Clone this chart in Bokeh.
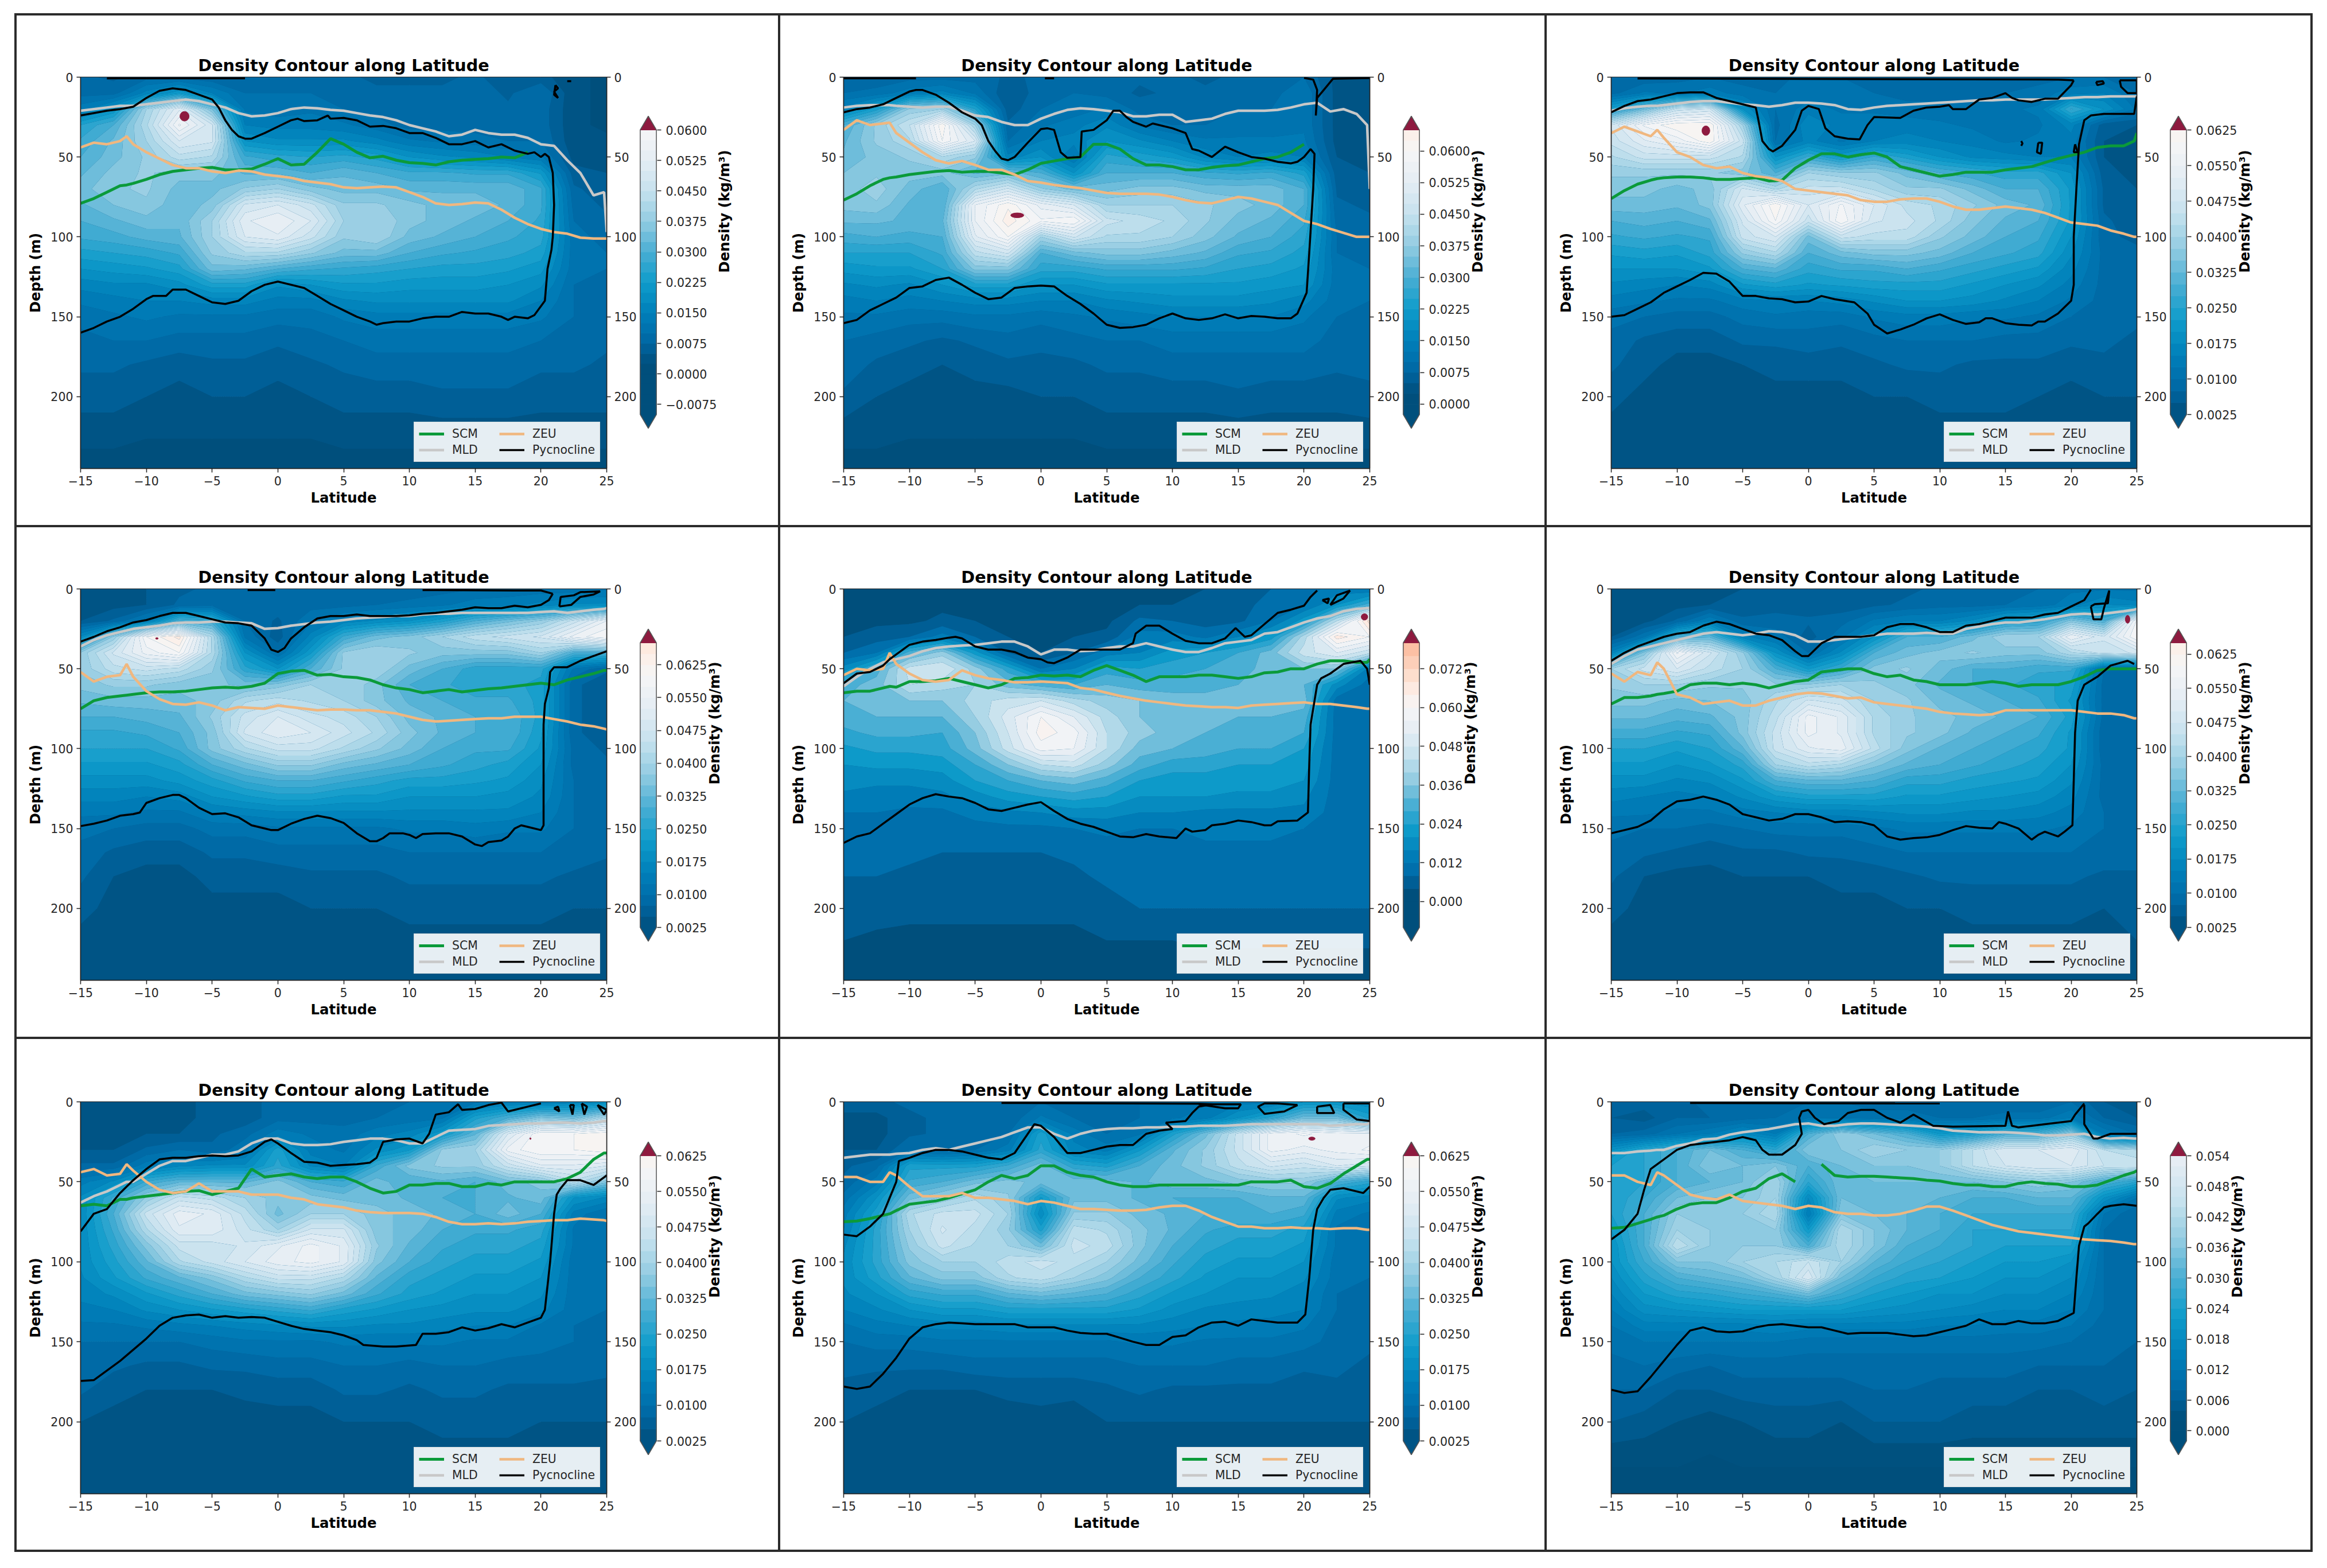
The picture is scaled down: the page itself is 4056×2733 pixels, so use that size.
import numpy as np
from bokeh.plotting import figure
from bokeh.models import FixedTicker, LinearAxis, Range1d, Legend, LegendItem
from bokeh.layouts import column, row
from bokeh.embed import file_html
from bokeh.resources import INLINE
N=float("nan")
LAT_G=[-15,-12.5,-10,-7.5,-5,-2.5,0,2.5,5,7.5,10,12.5,15,17.5,20,22.5,25]
DEP_G=[0,10,20,30,40,50,60,70,80,90,100,110,120,130,140,150,165,180,200,220,245]
LAT_L=[-15,-14,-13,-12,-11.5,-11,-10,-9,-8,-7,-6,-5,-4,-3,-2,-1,0,1,2,3,4,5,6,7,8,9,10,11,12,13,14,15,16,17,18,19,20,21,22,23,24,24.8,25]
BOT=[1]*17
P1_Z=[[8,7,9,9,8,9,9,9,8,7,7,7,8,6,6,3,2],[9,9,16,22,15,10,10,10,9,8,8,8,9,7,10,3,2],[14,20,40,52,35,12,11,12,10,9,8,8,9,8,9,3,2],[25,30,42,58,48,15,14,14,13,11,9,9,9,8,9,3,2],[28,33,40,50,48,20,18,18,18,16,13,12,11,10,10,3,3],[30,34,38,44,42,28,26,25,26,24,20,18,17,15,13,4,4],[32,36,38,36,36,32,32,30,32,30,28,28,27,27,22,6,5],[34,37,38,34,34,38,40,36,34,34,32,32,32,32,28,8,6],[32,35,37,33,36,48,50,46,38,38,36,34,34,32,28,9,7],[30,32,34,33,40,52,55,50,40,40,36,34,32,30,27,10,8],[28,29,31,32,40,50,52,46,38,40,34,32,30,28,26,11,9],[24,25,26,28,38,42,42,38,34,34,30,28,27,26,24,11,10],[20,21,22,24,34,33,30,28,27,26,25,24,24,23,21,11,10],[16,17,17,19,24,24,18,20,22,22,21,21,21,20,18,10,10],[13,14,15,15,16,16,14,14,17,18,18,18,18,18,15,10,10],[11,12,13,12,12,12,11,11,13,14,14,14,14,14,13,10,9],[9,10,10,9,9,9,8,9,10,11,11,11,11,11,10,9,8],[8,8,7,6,7,7,6,7,8,9,9,9,9,9,8,8,7],[6,6,5,4,5,5,4,5,6,6,6,7,7,7,6,6,6],[4,4,3,3,3,3,3,3,4,4,4,4,4,4,4,4,4],BOT]
P2_Z=[[8,8,9,9,9,7,8,9,9,8,8,7,8,8,10,4,3],[10,11,14,16,12,5,9,10,9,7,8,8,9,9,12,4,3],[16,24,38,40,25,6,10,11,13,9,9,9,10,10,12,4,3],[30,38,45,62,40,8,12,14,17,12,10,10,11,11,12,4,3],[32,38,42,60,50,10,15,16,20,18,15,13,13,13,13,4,3],[33,36,38,42,38,16,20,12,26,24,22,17,15,16,15,5,4],[35,37,36,36,32,34,30,20,30,30,30,28,27,28,24,6,5],[36,39,34,30,42,48,38,34,34,36,36,34,34,34,30,7,6],[36,37,32,30,55,62,54,50,40,40,40,38,36,34,30,8,7],[33,33,32,32,55,64,58,60,46,44,42,38,34,32,28,9,8],[29,30,29,30,52,60,40,48,42,42,40,36,32,30,26,10,9],[25,25,25,28,44,48,30,34,36,36,34,32,28,27,24,10,9],[21,22,22,25,36,36,26,26,28,28,28,27,25,24,22,11,10],[17,18,17,20,24,24,20,20,22,22,22,22,22,21,20,11,10],[14,15,14,15,16,16,15,15,17,18,19,19,19,18,16,11,10],[12,12,11,11,12,12,11,12,13,14,15,15,15,15,13,10,10],[10,9,8,7,8,9,8,9,10,10,11,11,11,11,11,9,9],[9,7,6,5,6,7,7,7,8,8,9,9,9,9,9,8,8],[7,5,4,3,4,4,5,5,6,6,6,6,7,6,6,6,7],[4,4,3,3,3,3,3,3,4,4,4,4,4,4,4,4,4],BOT]
P3_Z=[[8,8,9,10,9,9,11,10,9,8,8,9,9,9,10,10,8],[9,13,12,14,11,10,11,11,10,9,9,9,10,11,14,15,10],[24,34,46,48,20,10,14,12,12,11,11,11,12,13,28,20,12],[48,58,62,64,40,9,17,14,14,14,13,12,12,12,16,6,5],[46,52,56,62,46,10,16,12,15,16,15,14,12,13,14,5,5],[42,46,46,46,42,20,28,22,28,24,20,17,16,15,15,5,4],[38,38,38,38,36,30,40,38,38,34,30,28,26,26,20,6,4],[36,36,34,36,48,42,46,46,42,38,38,34,30,30,22,7,5],[34,34,33,36,52,62,50,58,50,44,42,38,34,32,22,7,5],[30,31,30,32,48,60,46,60,48,46,42,36,32,30,22,8,6],[27,28,27,28,46,50,34,46,44,44,38,34,30,28,20,8,7],[23,24,23,26,38,42,30,34,36,36,34,30,28,26,18,9,8],[20,20,20,22,30,32,26,28,28,30,28,26,24,22,16,9,8],[17,16,15,16,22,24,22,23,24,24,24,22,20,18,14,9,9],[14,13,12,12,14,15,15,16,18,20,20,19,17,15,12,9,9],[11,10,9,9,11,12,11,11,13,14,14,13,13,12,10,9,8],[9,7,6,6,8,8,9,8,9,10,10,10,9,9,8,8,7],[8,6,4,4,5,6,6,6,7,8,8,7,7,7,6,7,6],[6,4,3,3,3,4,4,4,5,5,6,6,6,5,4,5,5],[4,3,3,2,3,3,3,3,3,4,4,4,4,3,3,4,4],BOT]
P4_Z=[[4,4,5,7,8,9,9,9,9,8,8,9,10,11,11,11,12],[4,4,5,8,9,9,9,9,9,10,11,12,14,14,16,18,18],[5,8,14,30,28,10,7,12,16,18,20,24,30,34,38,46,55],[18,38,60,66,42,12,6,16,28,34,36,40,44,46,48,56,60],[38,48,56,60,42,20,10,22,38,40,38,36,36,36,40,30,30],[38,44,46,44,38,26,20,30,38,40,34,30,26,26,26,12,8],[36,38,38,36,36,34,36,40,40,36,30,28,26,26,24,8,6],[33,34,34,34,36,42,44,42,40,36,32,30,28,28,24,8,6],[30,30,31,32,38,46,50,46,44,40,34,32,30,30,24,8,6],[27,27,28,30,36,48,52,50,46,42,36,32,30,30,23,8,6],[25,25,25,28,36,42,46,46,42,38,34,30,28,28,22,9,7],[22,22,22,24,30,34,38,38,34,32,30,28,26,24,20,9,8],[19,19,19,21,24,28,30,30,28,26,24,24,23,22,18,10,9],[16,16,15,16,20,22,24,24,22,22,20,20,20,19,17,10,9],[13,13,12,12,15,16,17,17,17,17,17,17,17,17,15,10,9],[11,10,9,9,11,11,12,12,12,12,13,13,14,13,13,10,9],[9,7,6,6,8,8,9,9,9,9,10,10,10,10,10,9,8],[8,5,4,4,6,6,6,7,7,7,8,8,8,8,8,7,6],[6,4,3,3,4,4,4,5,5,5,6,6,6,6,6,5,5],[4,3,3,2,3,3,3,3,3,3,4,4,4,4,4,4,4],BOT]
P5_Z=[[2,2,2,3,3,3,3,3,3,3,4,4,6,8,10,14,12],[2,2,2,3,3,3,3,3,3,4,4,5,7,9,12,20,30],[2,3,3,5,4,3,3,3,3,9,8,6,7,12,22,44,70],[4,6,8,14,8,4,3,4,5,14,14,11,16,22,42,66,60],[8,12,30,38,22,8,4,8,14,16,22,24,28,34,46,52,45],[18,30,46,48,38,26,12,16,26,24,26,28,30,34,36,36,14],[30,34,44,42,40,34,30,28,32,30,30,30,32,34,32,18,10],[32,34,36,36,42,46,48,42,38,36,34,34,36,36,34,10,9],[30,32,32,32,40,50,60,52,42,36,34,34,32,32,30,10,9],[27,29,29,28,36,48,62,58,44,38,34,32,30,30,28,10,9],[23,25,25,26,34,46,58,56,44,34,32,30,28,28,24,10,9],[20,21,21,22,28,36,44,46,38,30,26,26,24,24,22,10,9],[18,17,17,18,24,28,32,34,30,24,22,22,22,22,20,10,9],[15,14,14,15,18,22,24,26,24,20,20,20,19,19,17,10,9],[12,12,11,11,14,15,16,18,18,16,16,15,15,15,15,10,9],[10,10,9,9,10,11,11,12,13,12,12,13,13,13,12,10,9],[10,10,9,8,8,8,8,9,10,11,11,11,11,11,11,10,10],[8,8,7,7,7,7,7,7,9,10,10,10,10,10,10,10,9],[6.5,5,5,5,5,5,5,5,6,8,8,8,8,8,8,8,8],[4,3.5,3,3,3,3,3,3,4,4,4,5,5,5,5,5,5],[0]*17]
P6_Z=[[3,3,3,4,5,6,6,7,6,7,8,9,10,10,12,12,12],[3,3,4,5,6,7,6,6,7,8,9,9,10,11,14,18,16],[3,4,8,15,8,8,8,9,13,15,15,18,24,26,36,30,58],[5,12,30,32,16,12,6,12,20,30,30,34,40,40,55,48,60],[16,36,58,48,38,20,10,18,30,34,36,38,36,36,42,46,48],[40,46,50,44,40,30,22,28,36,38,34,30,30,28,28,10,9],[38,40,40,38,38,38,38,40,38,36,32,30,28,26,24,9,9],[36,36,34,35,36,42,48,46,40,38,34,32,30,28,22,9,8],[33,33,31,32,36,44,56,52,42,38,36,34,32,30,24,9,9],[29,29,27,28,36,46,56,52,42,38,36,32,30,28,22,8,9],[25,25,23,25,32,46,52,54,44,36,32,30,28,26,22,8,8],[22,22,20,22,26,40,44,42,36,32,30,28,26,24,20,9,8],[19,19,17,18,22,30,32,32,30,26,26,24,23,22,18,9,9],[16,15,14,15,18,22,24,24,24,22,22,21,20,19,16,9,9],[13,13,12,12,14,15,16,16,17,18,18,17,17,16,14,10,9],[11,10,10,9,10,11,11,11,12,13,13,13,13,13,12,10,9],[9,8,7,6,7,7,8,8,9,10,10,10,10,10,10,9,9],[8,5,4,4,5,5,5,6,6,7,8,8,8,8,8,7,7],[6,4,3,3,3,3,3,4,4,5,5,6,6,6,6,5,6],[4,3,2,2,3,3,3,3,3,3,3,4,4,4,4,4,5],BOT]
P7_Z=[[4,3,3,4,6,7,8,9,8,9,10,10,12,14,14,16,18],[4,3,3,4,6,6,9,9,9,10,11,12,24,30,36,34,42],[4,4,5,5,7,9,14,12,11,14,16,22,32,50,60,60,62],[5,5,8,10,8,12,24,14,12,18,22,38,40,56,60,60,62],[8,8,14,17,18,18,26,17,15,28,36,38,38,46,52,52,50],[14,18,28,32,32,32,36,30,28,34,30,32,30,34,36,44,36],[18,28,38,46,44,40,36,36,34,34,32,30,30,32,34,20,17],[18,30,46,54,52,44,34,40,40,36,34,32,30,34,30,14,10],[18,28,42,52,52,46,40,48,48,36,34,30,28,28,26,12,10],[18,26,36,46,46,48,52,56,52,38,32,28,26,26,24,12,10],[18,24,32,42,46,50,54,56,52,36,30,26,24,24,22,11,10],[17,22,28,32,36,42,46,46,42,32,26,24,22,22,20,11,10],[16,18,22,26,30,34,36,38,34,28,24,22,20,20,18,11,10],[14,15,18,20,22,24,26,28,24,22,20,19,18,18,16,11,10],[12,12,13,14,15,16,17,18,18,17,17,16,15,15,12,10,10],[10,10,10,10,11,12,12,12,13,13,13,13,12,12,11,10,9],[9,8,7,7,8,8,9,9,10,10,9,10,10,9,9,9,8],[8,6,5,5,5,6,6,6,8,8,7,8,8,7,7,7,7],[5,4,3,3,3,3,4,4,5,5,5,6,6,6,5,5,5],[3,3,2,2,3,3,3,3,3,3,3,4,4,4,4,4,4],BOT]
P8_Z=[[7,7,8,9,9,10,10,10,10,10,11,12,14,14,20,20,18],[4,4,7,8,8,8,13,10,9,10,12,14,20,26,34,34,24],[4,4,7,8,8,10,24,14,10,12,24,34,46,56,58,56,56],[5,5,10,8,10,14,26,16,14,22,32,38,46,56,54,56,58],[7,9,24,24,24,28,34,26,24,30,34,38,44,48,46,50,48],[8,14,28,30,34,36,34,34,34,32,34,34,36,38,38,30,26],[11,20,34,38,42,38,22,34,34,32,30,30,30,32,32,18,16],[14,24,42,46,46,40,18,38,38,34,32,30,30,30,28,14,12],[15,26,40,48,44,38,24,44,42,36,32,28,26,26,24,12,10],[17,26,38,46,42,40,34,46,44,36,30,26,24,24,22,12,10],[18,26,36,40,40,44,46,44,40,34,28,24,22,22,20,11,10],[18,24,32,36,36,42,44,40,36,30,26,22,20,20,18,11,10],[17,20,26,28,28,32,34,32,30,26,22,20,18,18,16,10,10],[15,17,20,22,22,24,24,24,24,22,19,17,17,16,15,10,9],[12,14,15,16,16,17,17,17,17,17,16,15,14,14,13,9,9],[10,11,11,12,12,12,12,12,12,13,13,12,12,12,11,9,8],[8,8,8,8,9,9,9,9,9,10,10,10,9,9,8,8,7],[7,6,5,5,5,6,6,6,7,8,7,7,7,7,6,7,6],[5,4,3,3,3,3,4,3,5,5,5,5,5,5,5,5,5],[3,3,2,2,3,3,3,3,3,3,3,3,4,3,4,4,4],BOT]
P9_Z=[[8,7,7,9,9,10,10,10,9,9,9,8,8,8,10,6,5],[6,5,8,8,9,10,12,12,11,11,10,10,11,11,14,8,6],[8,9,12,14,18,14,30,38,34,30,22,24,30,30,38,14,10],[20,26,30,34,30,26,36,36,40,38,38,44,50,50,52,44,42],[24,26,30,36,34,36,30,34,36,36,38,44,48,50,50,46,46],[24,26,30,32,34,40,26,34,34,34,34,34,36,38,36,30,26],[24,28,34,36,36,40,18,34,34,34,32,30,30,32,32,20,12],[24,30,38,38,38,42,14,36,34,32,30,28,28,28,28,12,8],[22,30,40,38,38,38,22,42,36,32,30,26,26,26,26,10,8],[20,30,44,38,38,38,30,42,36,30,28,26,24,24,24,10,8],[20,28,36,36,40,42,46,40,32,28,26,24,22,22,20,10,8],[18,25,30,32,34,40,50,34,28,25,24,22,20,20,18,10,9],[16,22,25,26,28,30,34,28,24,22,20,20,18,18,16,10,9],[14,19,20,21,22,22,22,22,20,19,18,17,16,16,14,10,9],[12,15,15,15,15,16,15,15,15,15,14,14,13,13,12,9,9],[11,12,12,12,12,12,11,11,11,11,11,11,11,11,10,9,8],[9,10,9,8,9,9,9,9,9,9,9,9,9,8,8,8,7],[8,8,6,6,7,7,7,7,8,8,7,7,7,6,6,7,6],[6,5,4,3,4,5,5,4,6,6,6,5,5,5,5,5,5],[3,3,3,2,3,3,3,3,3,3,3,3,3,3,3,3,3],[0]*17]
P1_SCM=[79,76,72,68,67.5,66.5,64,61,59,58,57,56.5,58,58,57.5,54.5,51,55,54.5,47,38.5,42,47,50.5,49.5,52,53.5,54,55,53,52,51.5,51,50,50.5,47,N,N,N,N,N,N,N]
P1_MLD=[21,20,19,18,18,18,17,16,15,14,15,17,19,22.5,24.5,24,22.5,20,19,19.5,20.5,21,22.5,24,25,27,30,32,34,37,36,33,35,36,36,38,42,43,52,60,74,72,97]
P1_ZEU=[44,41,42,40,37,42,47,51,55,57,57,59,60,58.5,59,61,62,63,65,66,67,69,69.5,69,68.5,69,72,75,79,80,79.5,78.5,79,83,88,92,95,97,98,100.5,101,101,101]
P2_SCM=[77,73,68,64,63,62.5,61,60,59,58.5,59.5,59,59,60,61,58,54,52.5,51,50,42,42,45,51,55,55,56,58,58,56.5,55.5,55,53,51,50,47,42,N,N,N,N,N,N]
P2_MLD=[19,18,17.5,17.5,17.5,18,18.5,19,18.5,18.5,21,24,25,28,30,30,26,23,20.5,19.5,20,21,22,24.5,24.5,23.5,23.5,28,27,26,23,21,21,21,20.5,19,17,16,21.5,20,23,30,70]
P2_ZEU=[33,27,30,29,28.5,35,41,47,52,54,52.5,55,58,58,61,65,66,67.5,68.5,69.5,71,72.5,73,73,73,73.5,75,77,78.5,79,77,75,76,78,80,85,90,92,95,97.5,100,100,100]
P3_SCM=[76,71,67,64.5,63.5,63,62.5,62.5,63,64,64,63.5,63,65,64.5,57,52,48,48,50,48.5,47.5,50,56,58,60,62,61,59.5,59.5,59.5,58,57,56,53.5,51,49,47,44,43,43,40,35]
P3_MLD=[21,19.5,18.5,18,18,17.5,16.5,15.5,15,15,16,17,17.5,18.5,17.5,16,16,16.5,17.5,20,20.5,19,18,17.5,17,16.5,16,15.5,15,14.5,14.5,14,14,14,14,13.5,13,12.5,12.5,12,12,12,12]
P3_ZEU=[35,31,34,37,33,38,47,50,55,57,56,60,62,63,65,70,71,72,73,74,77,78,78,76.5,76,76,78,81,83,83,82,81,82,83,85,88,91,92,93,96,98,100,100]
P4_SCM=[75,70,68,67,66.5,66,65,64.5,64.5,64,63,62,61.5,62,61,59,53,51.5,51,54,53.5,55,55.5,57,60,62,63,65,64,63,64.5,63.5,62.5,62,61,60,59,60,57,55,53,51,51]
P4_MLD=[36,32,29,27,26,25,24,23,21.5,21,21,20.5,20.5,21,21.5,25,24.5,23,22,21,20.5,19.5,18.5,18,17.5,17,17,16,15.5,15.5,15,15,15,15,15,15,14.5,14,15,14,13,12.5,12]
P4_ZEU=[52,58,55,54,47,55,64,69,72,72.5,71,73,76,74,74.5,75,73,74,75,76,75.5,75.5,76,76,77,78,80,82,83,82.5,82,81.5,81,81,80,80,80,81.5,83,85,86,87.5,88]
P5_SCM=[65,64,64,62,61,61.5,58,58,57.5,56,58,60,62,60,56,55.5,54,54.5,54,55,51,48,51,54,58,55,55,55,54,54,55,56,55,52.5,52,50,50,47,45,45,46,46,44]
P5_MLD=[61,55,50,46,45,44,42,39,37,36,35.5,35,34,33,33,36,41,38,38,39,38.5,37,36,36,34,36,38,39.5,39.5,37,34,33,32,28,27,24,21,18.5,17,14,12.5,12,12]
P5_ZEU=[54,50,51,50,40,47,53,57,58,57,51,54,56,57,58.5,58.5,58,58.5,59,62,63,65,67,68.5,70,71,72,73,73.5,74,74,74.5,73,72.5,72,71.5,71,72,72,73,74,75,75]
P6_SCM=[72,68,68,67,66,65.5,64,60,59,59,60,59,60,62,60,58,57,52,51,50,50,53,55,54,57,58,60,60,60,59,58,59,61,60,60,60,58,55,51,50,50,50,50]
P6_MLD=[47,42,38,36,35,34,32,30,28,27,28,29,28,26.5,27,29,33,33,32,31,30,29,28,28,28,27.5,28,28,25,23.5,22,21,21,20,19,17.5,16,15.5,16,15,14,13,12.5]
P6_ZEU=[53,58,52,54,46,50,66,68,72,71,70,73,73,70,68,66,65,65.5,67,68.5,68,71,72,73,74,75,77,78,78.5,79,78.5,76,76,76,76,76,76,77,78,78,79,81,81]
P7_SCM=[65,64,65,61,61,60,59,58,57,56,55.5,58,56,54,42,47,46,45,47,48,47,47,50,54,57,56,52,52,51,51,53,53,51,52,50,50,50,50,48,44,36,32,32]
P7_MLD=[63,59,56,52,50,50,45,40,37,37,35,33,33,31,26,23,23,26,27,27,26.5,25,24,23,23,24,26,26,22,18,17.5,17,15,14.5,14,13.5,13.5,13,13,13.5,13,12,12]
P7_ZEU=[44,42,46,45,39,43,50,55,57,56,51,56,56,56,58,58,58,60,61,64,65,66,68,69,69.5,69.5,69.5,70,72,75,76.5,76.5,76,76.5,76,75,74.5,74,74,73,73.5,74,74.5]
P8_SCM=[75,74.5,73,71,70,68,64,63,62,60,57.5,55,50,46,48,46,40,40,44,46,47,50,52,53,53,52,52,52,52,52,52,52,50,50,50,49,53,54,51,45,40,36,36]
P8_MLD=[35,34,33,33,33,32.5,32,30,29,30,28,26,24,22,19,16,16,20,23,20,18,17,16.5,16.5,16,16,15.5,15.5,15,15,15,14.5,14,14,14,14,14,14,15,14.5,14,14,13]
P8_ZEU=[47,47,50,50,44,46,53,59,59,59,57,60,60,61,62,64,62,63,65,67,67,67.5,68,68,67.5,66,65,65,68,72,75,78,78,79,79,78.5,79,79,79.5,79,79,80,80]
P9_SCM=[79,78.5,76,73.5,72,71,67,64,63,63,60,56,54,48,45,50,N,39,46,47,46.5,46.5,47,47.5,48,49,49.5,51,52,52,53,53,51,50,51,51.5,53,53,52,49,46,44,43]
P9_MLD=[32,32,31,30.5,30,30,27.5,26,23.5,23,20.5,19,18,17,15.5,14,13.5,15,15,14,13.5,13.5,14,14.5,15,15.5,16.5,18,18.5,19,19,19,19.5,20,21,21,20.5,20,22,23,22.5,23,23]
P9_ZEU=[46,46,50,52,44,46,52,58,60,61,58,62,63,64,65,67,65,66,69,70,70,71,71,70,68,65.5,65.5,68,71,74,77,79,81,82,83,84,85,86,86.5,87,88,89,89]
P1_PX=[[-15,-13,-12,-11,-10,-9,-8,-7,-6,-5,-4.5,-4,-3.5,-3,-2.5,-2,-1,0,1,1.5,2,3,3.8,4,5,6,7,8,9,10,11,12,13,14,15,16,17,18,19,19.5,20,20.3,20.6,20.9,21,20.9,20.8,20.5,20.3,19.5,19,18,17.5,17,16,15,14,13,12,11,10,9,8,7.5,7,6,5,4,3,2,1,0,-1,-2,-3,-4,-5,-6,-7,-8,-8.5,-9.5,-10,-11,-12,-13,-14,-15],[-13,-2.5],[21.1,21.3,21,21.3,21,21.1],[22,22.3]]
P1_PY=[[24,21,20,18.5,13,8.5,7,8,11,14,19,27,33,37,38.5,38.5,35,31,27,26,27.5,27,24,26,25.5,27,31,30.5,32,35,35,38,42,42,40,44,42,46,48,47,50,48,50,60,80,100,108,120,140,149,151,150,152,150,148,148,147,150,150,151,153,153,154,155,153,150,146,142,137,132,130,128,130,134,140,142,141,137,133,133,137,137,139,145,150,153,157,160],[0.7,0.7],[5,7,9,13,11,5],[2.5,2.5]]
P2_PX=[[-15,-14,-13,-12,-11,-10,-9.5,-9,-8,-7,-6,-5,-4.5,-4,-3.5,-3,-2.5,-2,-1,0,0.5,1,1.5,2,3,3.1,4,5,5.5,6,6.5,7,8,8.5,10,11,11.5,12,13,14,15,16,17,18,19,19.5,20,20.5,20.8,20.7,20.4,20.2,19.5,19,18,17,16,15,14,13,12,11,10,9,8,7,6,5,4,3,2,1,0,-1,-2,-3,-4,-5,-6,-7,-8,-9,-10,-11,-12,-13,-14,-15],[-15,-9.5],[20,20.7,21,20.9,21,21.5,22.2,25],[0.3,1]]
P2_PY=[[22,20,19,17,13,9,8,8,11,16,22,26,30,40,46,51,52,50,41,32.5,32,33,47,50.5,50,34,33,27,21,21,25,28,31,29,32,35,45,46,50,43.5,47,50,51,53,54,53,50,45,48,70,110,135,148,151,151,150,149.5,151,148.5,151,152,151,148,151,155,156.5,157,155,148,142,137,131,130.5,131,132,138,139,135,130,125.5,127,131,132,138,142,146,152,154],[0.7,0.7],[0.5,1.5,8,24,13,8,1,0.5],[0.7,0.7]]
P3_PX=[[-15,-14,-13,-12,-11,-10,-9,-8,-7,-6,-5,-4,-3.8,-3.5,-3,-2.7,-2,-1,-0.5,0,0.8,1.3,2,3,3.9,4.5,5,7,8,9,10,10.7,11,12,13,14,15,15.5,16,17,18,19,20,20.2],[-13,19,20.2],[25,24.8,22.5,21.5,21,20.6,20.4,20.2,20.2,20,19,18,17.5,17,16,15,14,13.5,13,12,11,10,9,8,7,6,5,4.5,3.5,2,1,0,-1,-2,-3,-4,-5,-6,-7,-8,-9,-10,-11,-12,-13,-14,-15],[16.2,16.3,16.2],[17.5,17.8,17.7,17.4,17.5],[20.3,20.5,20.2,20.3],[21.9,22.4,22.5,22,21.9],[23.7,25,25,24.3,23.8,23.7]]
P3_PY=[[22,18,15,14,12,10,9.5,9.5,13,15,17,19,27,40,45,46.5,43,33,21,18,20,32,37,38.5,39,30,25,25.5,21,19,18.5,17.5,20,20,14,13,10,13,14.5,15.5,13.5,13.5,5,2],[0.8,1.5,2],[12,23,23,24,27,42,70,100,130,140,148,153,153,155.5,155,154,151,151,153.5,154.5,152,148.5,151,155,158,160.5,155,148,141,139,137,140.5,141,139,138.5,137,137,128,123,122.5,127,131,135,141,145,149,150],[40,41.5,43],[41,41,48,47,41],[42,47,47,42],[3,2.5,4,5,3],[2,2,10,10,6,2]]
P4_PX=[[-15,-14,-13,-12,-11,-10,-9,-8,-7,-6,-5,-4,-3,-2,-1,-0.5,0,0.5,1,2,3,4,5,6,7,8,9,10,11,12,13,14,15,16,17,18,19,20,20.6,20.9],[11,18,20,20.9],[-2.3,-0.2],[25,24,23,22,21,20.7,20.6,20.3,20.2,20.2,20.2,20,19,18.5,18,17.5,17,16,15.5,15,14,13,12,11,10.5,10,9.5,8.5,8,7.5,7,6,5,4,3,2,1,0,-0.5,-1,-2,-3,-4,-5,-6,-7,-7.5,-8,-9,-10,-10.5,-11,-12,-13,-14,-15],[21.4,21.5,22.5,23,24.5,24,23,22.3,21.4]]
P4_PY=[[33,30,26.5,24,21,19.5,17,15,15,17,19,21,21.5,23,31,38,39.5,37,31,24,18.5,17,17,16,17,17,17,16.5,15.5,15,14,13,11.5,12,12,10.5,11.5,10,7,3],[0.7,1,1,3],[0.7,0.7],[39,42,45,49,49,52,62,72,85,110,148,151,149,148,150,155,157.5,158.5,161,160,155,153,153,153.5,156,154,153,153,156,158,158,153,146.5,143.5,142,144,147,151,151,150,148,143,140.5,141,137,131,129,129,131,134,140,141,142,145,147,148.5],[11,5,4,2,1.5,3.5,5,10,11]]
P5_PX=[[-15,-14,-13,-12,-11.5,-11,-10,-9,-8,-7,-6.5,-6,-5,-4,-3,-2,-1,0,0.5,1,2,3,4,5,6,7,7.2,8,9,10,11,12,13,14,14.8,15.5,16,17,18,19,20,20.5,21],[21.4,21.9,21.8,21.4],[22,23,23.5,22.5,22],[25,24.8,24.3,23,22,21.3,21,20.7,20.5,20.4,20.3,19.5,18,17.5,17,16,15,14,13,12.5,11.5,11,10.3,9,8,7,6,5,4,3,2,1,0,-1,-2,-3,-4,-5,-6,-7,-8,-9,-10,-11,-12,-13,-14,-15]]
P5_PY=[[59,53,52,48,44,41,35,33,32,30.5,30,31,36,38,38,39.5,43,44,46,46.5,43,38,38,38,38,34,28,23,23,28,32.5,34,34,31,24.5,30,29,22,15,13,10.5,5,1],[7,6,9,7],[10,6,1,4,10],[60,50,45,47,53,56,60,75,85,110,140,145,145.5,148,148,146,145,147,148,151,152,150,156,155,153.5,155.5,155,152,149,147,144,139,133.5,135,137,139,138,134,131,130,128.5,131,135,141,147,153,155,159]]
P6_PX=[[-15,-14,-13,-12,-11,-10,-9,-8,-7,-6,-5,-4,-3,-2,-1,-0.5,0,1,2,3,4,5,6,7,8,9,10,11,12,13,14,15,16,17,18,19,20,21,21.5],[24.8,24.3,23,22,21,20.5,20.3,20.2,20.1,19.5,19,18,17.5,17,16,15,14.5,14,13,12,11,10,9,8,7,6,5,4,3,2,1,0,-1,-2,-3,-4,-5,-6,-7,-8,-9,-10,-11,-12,-13,-14,-15],[21.5,21.8,22.8,22.9,22.5,22.3,21.7,21.5]]
P6_PY=[[45,40,36,33,30,28,27,23,20.5,22,25,28,29,32,39,42,42,34,30,30,30,29,24,22,22,24,27,27,23,22,20,18,18,18,16,15,11,7,0.5],[47,45,48,55,60,70,90,120,148,152,155,152,154,157,150,147,146,150,149.5,148.5,151,154,155.5,156,157,155,148,146,145.5,146,143,141,141,144,145,143,141,135,132,130,132,133,138,145,149,151,153],[11,9.5,9,1,12,19,19,11]]
P7_PX=[[-15,-14,-13,-12,-11,-10,-9,-8,-7,-6,-5,-4,-3,-2,-1,-0.5,0,1,2,3,4,5,6,7,7.5,8,9,10,11,11.5,12,13,13.7,14,15,16,17,17.5,18,19,20],[25,24,23,22,21.5,21.2,21,20.7,20.3,20,19,18,17,16,15,14,13,12,11,10.5,9,8,6.5,6,5,4,3,2,1,0,-1,-2,-3,-4,-5,-6,-7,-8,-9,-10,-11,-12,-13,-14,-15],[21,21.3,21.4,21],[22.2,22.5,22.4,22.2],[23.1,23.5,23.3,23.1],[24.3,25,24.8,24.3]]
P7_PY=[[81,70,67,57,49,42,36,35,35,34,33.5,34,33.5,31,25,23.5,26,32,37.5,38,40,39.5,39,38,35,25,23.5,23,26,20,8,6.5,1.5,5,4.5,2,0.5,6,5,3,1],[46,52,49,49,54,58,70,100,130,135,138,141,139,141.5,143,141,144,145,145,152,153,153,152,149,146,144,143,142,140,137.5,135,134.5,135,134,135,133,133.5,135,140,148,155,162,168,174,174.5],[4,3,6,4],[2,2,8,2],[1,3,8,1],[2,5,8,2]]
P8_PX=[[-15,-14,-13,-12,-11.5,-11,-10.8,-10,-9,-8,-7,-6,-5,-4,-3,-2,-1,-0.5,0,1,2,3,4,5,6,7,8,9,10,9.5,11,11.5,12,13],[-3,12,13],[12,14,15,15.2,12],[18,19.5,18.5,17,16.5,17,18],[21,22,22.3,21,21],[23,25,25,24,23,23],[25,24.5,23,22,21.5,21,20.7,20.4,20.1,19.5,18,17,16,15,14,13,12,11,10,9,8,7,6,5,4,3,2,1,0,-1,-2,-3,-4,-5,-6,-7,-8,-9,-10,-11,-12,-13,-14,-15]]
P8_PY=[[83,84,78,70,60,50,37,35,32,30,30,31,33,35,36,32,20,14,15,22,32,32,30,28,27,27,20,18,17,13,12,7,3,1.5],[0.7,1.2,1.5],[1.5,4,4,1.5,1.5],[1,2,6,7.5,3,1,1],[3,2,7,7,3],[1,1,12,11,5,1],[53,57,54,55,60,67,80,110,133,138,138,137,136,140,137.5,138,141,146,147,152,152,150,147.5,145,145,144.5,143,141,141,141,139,139,139,139,138.5,138,139,141,148,160,170,178,179.5,178]]
P9_PX=[[-15,-14,-13,-12.5,-12,-11,-10,-9,-8,-7,-6,-5,-4,-3.5,-3,-2,-1,-0.5,-0.7,-0.5,0,0.5,1.2,2.3,3,4,5,6,7,8,9.5,11,15,15.2,15.5,16,18,20,20.3,21],[-9,10],[25,24,23,22,21.7,21,21],[25,24,23,22.5,22,21.3,21,20.6,20.4,20.2,19,18,17,16,15,14,13,12,11,10,9,8,7,6,5,4,3,2,1,0,-1,-2,-3,-4,-5,-6,-7,-8,-9,-10,-11,-12,-13,-14,-15]]
P9_PY=[[86,80,70,55,42,36,30,27,26,25,24,22,24,30,33,33,27,20,10,6,5,10,14,12,7,5,5,10,13,8,15,15.5,15,6,15,16,14,12,8,1],[0.7,1],[20,20,20,23,23,14,2],[65,64,65,66,70,76,78,90,110,132,137,138.5,138.5,137,139,139,136,140,142,144,146,146.5,145.5,144.5,144.5,144.5,145,143,141,141,140,139,139.5,141,143.5,144,143.5,141,143,152,162,172,181,182,180]]
HOT_LAT=[-7.1,-1.8,-7.8,-9.2,24.6,24.3,19.2,20.6]; HOT_DEP=[24.5,86.5,33.5,31,17.5,19,23,23]
HOT_W=[0.7,1.0,0.6,0.2,0.5,0.35,0.1,0.5]; HOT_H=[6,3,6,1,4,5,1,2]
ZS=[P1_Z,P2_Z,P3_Z,P4_Z,P5_Z,P6_Z,P7_Z,P8_Z,P9_Z]
SCMS=[P1_SCM,P2_SCM,P3_SCM,P4_SCM,P5_SCM,P6_SCM,P7_SCM,P8_SCM,P9_SCM]
MLDS=[P1_MLD,P2_MLD,P3_MLD,P4_MLD,P5_MLD,P6_MLD,P7_MLD,P8_MLD,P9_MLD]
ZEUS=[P1_ZEU,P2_ZEU,P3_ZEU,P4_ZEU,P5_ZEU,P6_ZEU,P7_ZEU,P8_ZEU,P9_ZEU]
PXS=[P1_PX,P2_PX,P3_PX,P4_PX,P5_PX,P6_PX,P7_PX,P8_PX,P9_PX]
PYS=[P1_PY,P2_PY,P3_PY,P4_PY,P5_PY,P6_PY,P7_PY,P8_PY,P9_PY]
STOPS_V=[0.0025,0.005,0.0075,0.01,0.015,0.0225,0.03,0.0375,0.045,0.0525,0.06,0.065,0.072,0.08]
STOPS_R=[0,0,0,0,0,15,74,147,198,229,246,253,253,252]
STOPS_G=[79,90,101,111,128,156,175,204,226,237,246,238,216,184]
STOPS_B=[124,142,160,172,186,203,212,226,238,244,247,230,196,154]
def band_colors(lv):
    m=(lv[:-1]+lv[1:])/2
    r,g,b=[np.interp(m,STOPS_V,s) for s in (STOPS_R,STOPS_G,STOPS_B)]
    return ["#%02x%02x%02x"%(int(a),int(c),int(d)) for a,c,d in zip(r,g,b)]
LOW=[-0.01,-0.0025,0.0025,0.0025,-0.008,0.0025,0.0025,0.0025,-0.002]
TOP=[0.06,0.065,0.0625,0.0675,0.08,0.065,0.0625,0.0625,0.054]
STEP=[0.0025,0.0025,0.0025,0.0025,0.004,0.0025,0.0025,0.0025,0.002]
TICK0=[-0.0075,0,0.0025,0.0025,0,0.0025,0.0025,0.0025,0]
TICKD=[0.0075,0.0075,0.0075,0.0075,0.012,0.0075,0.0075,0.0075,0.006]
TICKN=[10,9,9,9,7,9,9,9,10]
CELL_X=[27,1358,2694]; CELL_W=[1331,1336,1335]
CELL_Y=[25,917,1809]; CELL_H=[892,892,894]
AX_X=[140,1470,2808]; AX_W=[917,917,916]
AX_Y=[134,1026,1920]; AX_H=[682,682,683]
CB_Y=[226,1120,2014]; CB_H=[496,496,497]
def style_axis(a,size="20.5px"):
    a.major_label_text_font="DejaVu Sans";a.major_label_text_font_size=size;a.major_label_text_color="#262626"
    a.major_tick_in=0;a.major_tick_out=7;a.minor_tick_line_color=None;a.major_tick_line_color="#222222";a.major_label_standoff=6;a.major_tick_line_width=1.5
def axis_title(a,t,sd):
    a.axis_label=t;a.axis_label_text_font="DejaVu Sans";a.axis_label_text_font_style="bold";a.axis_label_text_font_size="24.4px";a.axis_label_text_color="#000000";a.axis_label_standoff=sd
def panel(i):
    r,c=i//3,i%3
    cx,cy,cw,ch=CELL_X[c],CELL_Y[r],CELL_W[c],CELL_H[r]
    ax,ay,aw,ah=AX_X[c],AX_Y[r],AX_W[c],AX_H[r]
    mw=ax+aw+57-cx
    bt,bb=ay-cy,ch-(ay-cy)-ah
    p=figure(width=mw,height=ch,x_range=Range1d(-15,25),y_range=Range1d(245,0),output_backend="svg",toolbar_location=None,
             title="Density Contour along Latitude",min_border_left=ax-cx,min_border_top=bt,min_border_right=57,min_border_bottom=bb,background_fill_color="#005a8e",border_fill_color=None)
    p.title.align="center";p.title.text_font="DejaVu Sans";p.title.text_font_style="bold";p.title.text_font_size="28.7px";p.title.text_color="#000000";p.title.standoff=8
    lv=np.arange(LOW[i],TOP[i]+1e-6,STEP[i])
    cols=band_colors(lv)
    z=np.clip(np.array(ZS[i],float)/1000,lv[0]+1e-5,lv[-1]-1e-5)
    p.contour(LAT_G,DEP_G,z,lv,fill_color=cols,line_color=None)
    if i<len(HOT_LAT):
        p.ellipse(x=[HOT_LAT[i]],y=[HOT_DEP[i]],width=[HOT_W[i]],height=[HOT_H[i]],fill_color="#8e1a3f",line_color="#8e1a3f")
    xt=[-15,-10,-5,0,5,10,15,20,25]; yt=[0,50,100,150,200]
    p.xaxis[0].ticker=FixedTicker(ticks=xt);p.yaxis[0].ticker=FixedTicker(ticks=yt)
    p.xaxis[0].major_label_overrides={v:str(v).replace("-","\u2212") for v in xt}
    ra=LinearAxis(ticker=FixedTicker(ticks=yt)); p.add_layout(ra,"right")
    for a in (p.xaxis[0],p.yaxis[0],ra):
        style_axis(a);a.axis_line_color="#222222";a.axis_line_width=1.5
    axis_title(p.xaxis[0],"Latitude",4);axis_title(p.yaxis[0],"Depth (m)",9)
    p.xgrid.ticker=FixedTicker(ticks=xt);p.ygrid.ticker=FixedTicker(ticks=yt)
    p.grid.grid_line_color="#ffffff";p.grid.grid_line_alpha=0.22;p.grid.grid_line_dash="2 2";p.outline_line_color="#222222";p.outline_line_width=1.5
    l1=p.line(LAT_L,SCMS[i],line_color="#0b9a3a",line_width=5)
    l2=p.line(LAT_L,MLDS[i],line_color="#c8c8c8",line_width=4.5)
    l3=p.line(LAT_L,ZEUS[i],line_color="#f0b77f",line_width=4.5)
    l4=p.multi_line(PXS[i],PYS[i],line_color="#000000",line_width=3.5)
    leg=Legend(items=[LegendItem(label="SCM",renderers=[l1]),LegendItem(label="MLD",renderers=[l2]),LegendItem(label="ZEU",renderers=[l3]),LegendItem(label="Pycnocline",renderers=[l4])],
               location="bottom_right",margin=11,nrows=2,orientation="vertical",label_text_font="DejaVu Sans",label_text_font_size="20.4px",label_text_color="#262626",
               background_fill_color="#ffffff",background_fill_alpha=0.9,border_line_color="#cccccc",glyph_width=44,glyph_height=24,label_standoff=14,padding=8,spacing=4,label_height=24,label_width=78)
    p.add_layout(leg,"center")
    # colour bar: a small figure of its own, from the same levels; its frame spans the same height as the axes
    bh=CB_H[r];tip=24
    scale=(lv[-1]-lv[0])/bh
    cbw=cx+cw-(ax+aw+57)
    q=figure(width=cbw,height=ch,x_range=Range1d(-0.05,1.05),y_range=Range1d(lv[0]-(ay+ah-CB_Y[r]-bh)*scale,lv[-1]+(CB_Y[r]-ay)*scale),output_backend="svg",toolbar_location=None,
             y_axis_location="right",min_border_left=0,min_border_right=cbw-31,min_border_top=bt,min_border_bottom=bb,border_fill_color=None,background_fill_color=None,outline_line_color=None)
    q.quad(left=0,right=1,bottom=lv[:-1],top=lv[1:],fill_color=cols,line_color=cols)
    q.patch([0,0.5,1],[lv[-1],lv[-1]+tip*scale,lv[-1]],fill_color="#8e1a3f",line_color="#8e1a3f")
    q.patch([0,0.5,1],[lv[0],lv[0]-tip*scale,lv[0]],fill_color=cols[0],line_color=cols[0])
    q.line([0,0.5,1,1,0.5,0,0],[lv[0],lv[0]-tip*scale,lv[0],lv[-1],lv[-1]+tip*scale,lv[-1],lv[0]],line_color="#555555",line_width=1.5)
    q.xaxis.visible=False;q.grid.visible=False
    ticks=[round(TICK0[i]+k*TICKD[i],4) for k in range(TICKN[i])]
    fmt="%.3f" if TICKD[i] in (0.012,0.006) else "%.4f"
    ya=q.yaxis[0];ya.ticker=FixedTicker(ticks=ticks);ya.major_label_overrides={t:(fmt%t).replace("-","\u2212") for t in ticks}
    style_axis(ya);ya.axis_line_color=None;ya.major_label_standoff=8
    axis_title(ya,"Density (kg/m\u00b3)",10);ya.axis_label_orientation=np.pi/2
    return row(p,q,spacing=0,styles={"outline":"4px solid #2b2b2b","outline-offset":"-2px"})
cells=[panel(i) for i in range(9)]
lay=column(row(*cells[:3],spacing=0),row(*cells[3:6],spacing=0),row(*cells[6:],spacing=0),spacing=0,margin=(25,0,0,27))
open("out.html","w").write(file_html(lay,INLINE))
